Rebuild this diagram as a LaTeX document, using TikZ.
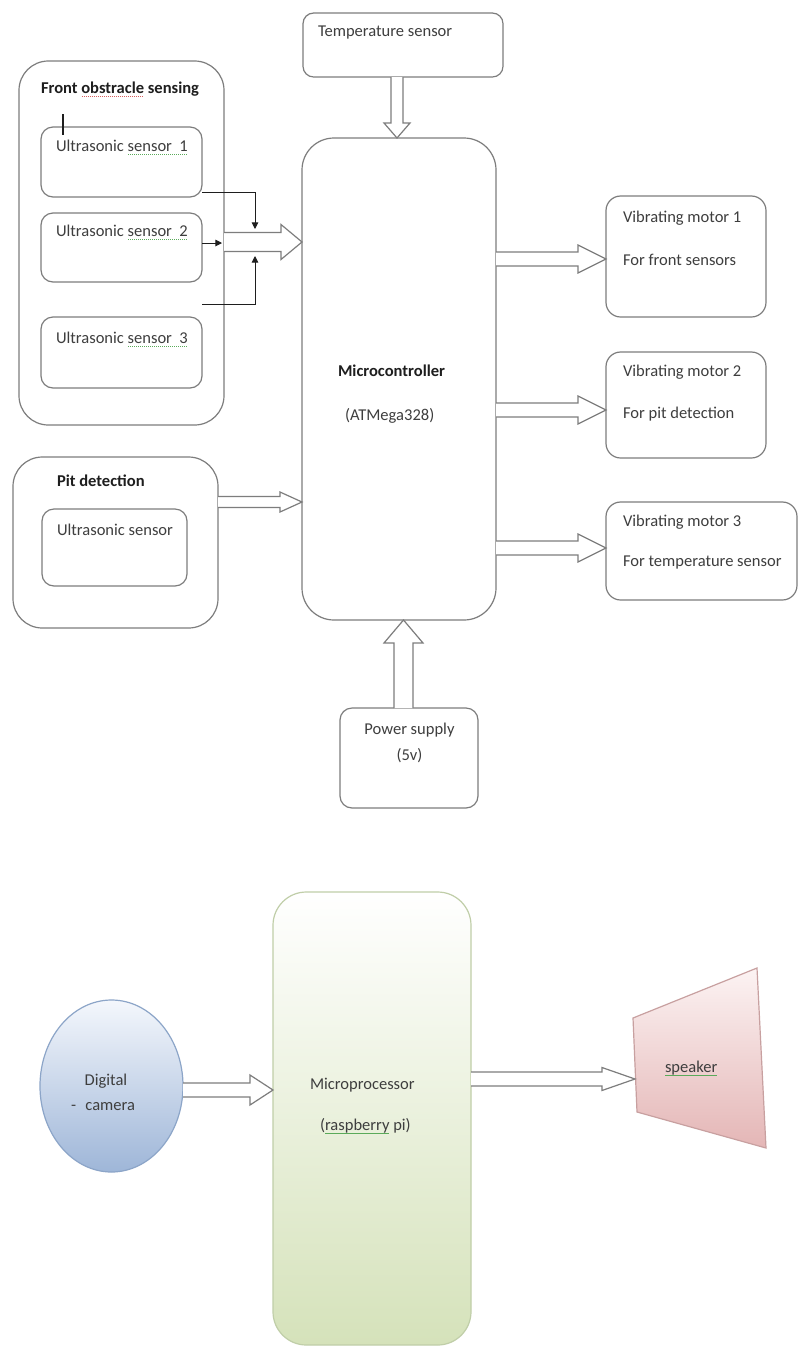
\documentclass[tikz,border=0pt]{standalone}
\usepackage{fontspec}
\setmainfont{Carlito}
\usetikzlibrary{calc,arrows.meta,shapes.geometric}
\definecolor{lc}{RGB}{125,125,125}
\definecolor{tc}{RGB}{62,62,62}
\definecolor{bc}{RGB}{30,30,30}
\definecolor{spg}{RGB}{90,170,90}
\definecolor{spr}{RGB}{215,95,95}
\definecolor{camtop}{RGB}{244,247,252}
\definecolor{cambot}{RGB}{158,182,216}
\definecolor{camln}{RGB}{140,165,200}
\definecolor{mpbot}{RGB}{213,226,186}
\definecolor{mpln}{RGB}{192,206,168}
\definecolor{sptop}{RGB}{252,243,243}
\definecolor{spbot}{RGB}{228,182,182}
\definecolor{spln}{RGB}{200,160,160}

\newsavebox\spbox
\newcommand\spell[2]{\sbox\spbox{#2}\rlap{\raisebox{-2.4pt}[0pt][0pt]{\textcolor{#1}{\leaders\hbox to 1.5pt{\hss\rule{0.8pt}{0.6pt}\hss}\hskip\wd\spbox}}}\usebox\spbox}

% box node: style, name, x1, y1, x2, y2 (pixels), corner radius
\newcommand\bx[7]{\node[#1, rounded corners=#7, minimum width={(#5-#3)*0.75pt}, minimum height={(#6-#4)*0.75pt}] (#2) at ({(#3+#5)/2},{(#4+#6)/2}) {};}

% block arrows: start, tip, half band, half head, head length (pixels)
\newcommand\harrow[5]{\draw[barrow] let \p1=#1, \p2=#2 in (\x1,{\y2+#3*0.75pt}) -- ({\x2-#5*0.75pt},{\y2+#3*0.75pt}) -- ({\x2-#5*0.75pt},{\y2+#4*0.75pt}) -- (\x2,\y2) -- ({\x2-#5*0.75pt},{\y2-#4*0.75pt}) -- ({\x2-#5*0.75pt},{\y2-#3*0.75pt}) -- (\x1,{\y2-#3*0.75pt});}
\newcommand\darrow[5]{\draw[barrow] let \p1=#1, \p2=#2 in ({\x2-#3*0.75pt},\y1) -- ({\x2-#3*0.75pt},{\y2+#5*0.75pt}) -- ({\x2-#4*0.75pt},{\y2+#5*0.75pt}) -- (\x2,\y2) -- ({\x2+#4*0.75pt},{\y2+#5*0.75pt}) -- ({\x2+#3*0.75pt},{\y2+#5*0.75pt}) -- ({\x2+#3*0.75pt},\y1);}
\newcommand\uarrow[5]{\draw[barrow] let \p1=#1, \p2=#2 in ({\x2-#3*0.75pt},\y1) -- ({\x2-#3*0.75pt},{\y2-#5*0.75pt}) -- ({\x2-#4*0.75pt},{\y2-#5*0.75pt}) -- (\x2,\y2) -- ({\x2+#4*0.75pt},{\y2-#5*0.75pt}) -- ({\x2+#3*0.75pt},{\y2-#5*0.75pt}) -- ({\x2+#3*0.75pt},\y1);}

\tikzset{
  box/.style={draw=lc, line width=0.9pt, fill=white, inner sep=0pt, outer sep=0pt},
  barrow/.style={draw=lc, fill=white, line width=0.9pt, line join=miter},
  tarrow/.style={draw=bc, line width=0.7pt, -{Triangle[length=5pt,width=5pt]}},
  txt/.style={text=tc, font=\fontsize{12.4}{14}\selectfont, inner sep=0pt, outer sep=0pt},
  btxt/.style={txt, text=bc, font=\fontsize{12.4}{14}\selectfont\bfseries},
}

\begin{document}
\begin{tikzpicture}[x=0.75pt, y=-0.75pt]
\useasboundingbox (0,0) rectangle (799,1347);
\fill[white] (0,0) rectangle (799,1347);

% ---------- upper diagram ----------
\bx{box}{fos}{19}{61}{224}{425}{22pt}
\bx{box}{us1}{41}{127}{202}{197}{9pt}
\bx{box}{us2}{41}{213}{202}{282}{9pt}
\bx{box}{us3}{41}{317}{202}{388}{9pt}
\bx{box}{temp}{303}{13}{503}{77}{8pt}
\bx{box}{mc}{302}{138}{496}{620}{24pt}
\bx{box}{vm1}{606}{196}{766}{317}{11pt}
\bx{box}{vm2}{606}{352}{766}{458}{11pt}
\bx{box}{vm3}{606}{502}{797}{600}{11pt}
\bx{box}{pit}{13}{457}{218}{628}{22pt}
\bx{box}{pus}{42}{509}{187}{586}{9pt}
\bx{box}{ps}{340}{708}{478}{808}{9pt}

\node[txt, anchor=mid west] (ttemp) at (318,33) {Temperature sensor};
\node[btxt, anchor=mid west] (tfos) at (41,90) {Front \spell{spr}{obstracle} sensing};
\node[txt, anchor=mid west] (tus1) at (56,148) {Ultrasonic \spell{spg}{sensor\ \ 1}};
\node[txt, anchor=mid west] (tus2) at (56,233) {Ultrasonic \spell{spg}{sensor\ \ 2}};
\node[txt, anchor=mid west] (tus3) at (56,340) {Ultrasonic \spell{spg}{sensor\ \ 3}};
\node[btxt, anchor=mid west] (tmc1) at (338,373) {Microcontroller};
\node[txt, anchor=mid west] (tmc2) at (345,417) {(ATMega328)};
\node[txt, anchor=mid west] (tvm1a) at (623,219) {Vibrating motor 1};
\node[txt, anchor=mid west] (tvm1b) at (623,262) {For front sensors};
\node[txt, anchor=mid west] (tvm2a) at (623,373) {Vibrating motor 2};
\node[txt, anchor=mid west] (tvm2b) at (623,415) {For pit detection};
\node[txt, anchor=mid west] (tvm3a) at (623,523) {Vibrating motor 3};
\node[txt, anchor=mid west] (tvm3b) at (623,563) {For temperature sensor};
\node[btxt, anchor=mid west] (tpit) at (57,483) {Pit detection};
\node[txt, anchor=mid west] (tpus) at (57,532) {Ultrasonic sensor};
\node[txt, anchor=mid] (tps1) at (409.5,731) {Power supply};
\node[txt, anchor=mid] (tps2) at (409.5,757) {(5v)};

% cursor tick
\draw[line width=1.2pt, draw=bc] (63,114) -- (63,135);

% block arrows
\coordinate (fa) at (0,242);
\harrow{(fos.east |- fa)}{(mc.west |- fa)}{9.5}{17.5}{21}
\coordinate (pa) at (0,502);
\harrow{(pit.east |- pa)}{(mc.west |- pa)}{5.5}{10}{22}
\coordinate (v1a) at (0,259);
\harrow{(mc.east |- v1a)}{(vm1.west |- v1a)}{7}{14}{28}
\coordinate (v2a) at (0,410);
\harrow{(mc.east |- v2a)}{(vm2.west |- v2a)}{7}{14}{28}
\coordinate (v3a) at (0,548);
\harrow{(mc.east |- v3a)}{(vm3.west |- v3a)}{7}{14}{28}
\coordinate (ta) at (397,0);
\darrow{(temp.south -| ta)}{(mc.north -| ta)}{6}{13}{15}
\coordinate (pwa) at (403.5,0);
\uarrow{(ps.north -| pwa)}{(mc.south -| pwa)}{9.5}{19.5}{23}

% thin connectors from the sensors
\coordinate (a1) at (255,229);
\coordinate (a2) at (222,243);
\coordinate (a3) at (255,256);
\draw[tarrow] ($(us1.south east)+(0,-5)$) -| (a1);
\draw[tarrow] ($(us2.east)+(0,-4.5)$) -- (a2);
\draw[tarrow] ($(us3.north east)+(0,-13)$) -| (a3);

% ---------- lower diagram ----------
\node[ellipse, draw=camln, line width=0.9pt, top color=camtop, bottom color=cambot,
      minimum width={143*0.75pt}, minimum height={172*0.75pt}, inner sep=0pt, outer sep=0pt] (cam) at (111.5,1086) {};
\bx{draw=mpln, line width=0.9pt, top color=white, bottom color=mpbot, inner sep=0pt, outer sep=0pt}{mp}{273}{892}{471}{1345}{25pt}
\draw[draw=spln, line width=0.9pt, top color=sptop, bottom color=spbot] (633,1018) -- (757,968) -- (766,1148) -- (637,1112) -- cycle;

\node[txt, anchor=mid] (tcam1) at (106,1082) {Digital};
\node[txt, anchor=mid west] (tcam2) at (71,1107) {-\hspace{7pt}camera};
\node[txt, anchor=mid west] (tmp1) at (310,1086) {Microprocessor};
\node[txt, anchor=mid west] (tmp2) at (320,1127) {(\spell{spg}{raspberry} pi)};
\node[txt, anchor=mid west] (tspk) at (665,1069) {\spell{spg}{speaker}};

\coordinate (ca) at (0,1090);
\harrow{(cam.east |- ca)}{(mp.west |- ca)}{7}{15}{23}
\coordinate (spk) at (635,1079);
\harrow{(mp.east |- spk)}{(spk)}{7}{11.5}{33}
\end{tikzpicture}
\end{document}
